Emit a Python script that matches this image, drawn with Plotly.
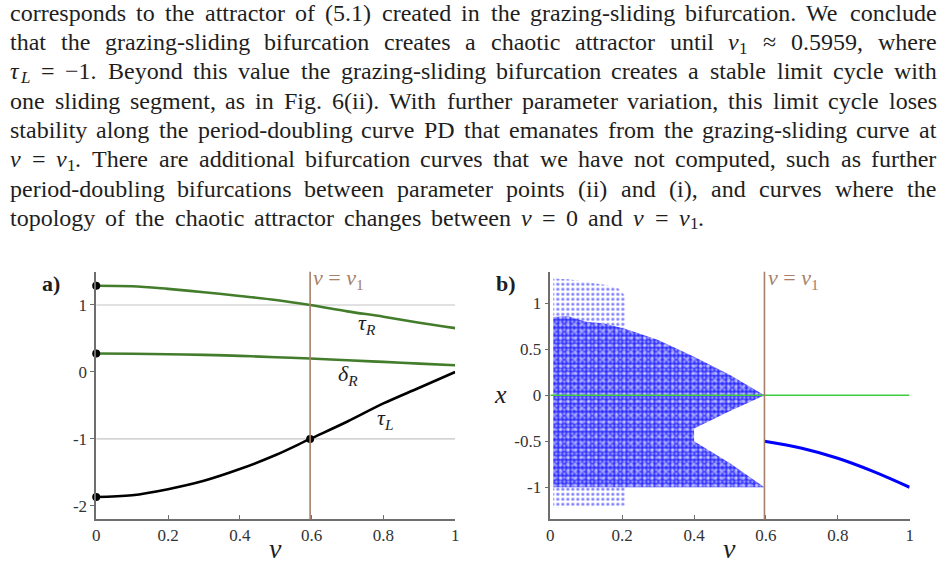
import plotly.graph_objects as go

# ---------------- data: panel a ----------------
nu_a = [0, 0.1, 0.2, 0.3, 0.4, 0.5, 0.5959, 0.7, 0.8, 0.9, 1.0]
tau_R = [1.288, 1.28, 1.24, 1.19, 1.135, 1.075, 1.0, 0.905, 0.825, 0.735, 0.655]
delta_R = [0.275, 0.272, 0.265, 0.255, 0.24, 0.22, 0.2, 0.175, 0.15, 0.125, 0.1]
tau_L = [-1.866, -1.84, -1.75, -1.625, -1.45, -1.24, -1.0, -0.74, -0.47, -0.235, 0.0]
nu1 = 0.5959
dot_nu = [0, 0, 0, 0.5959]
dot_val = [1.288, 0.275, -1.866, -1.0]
grid_vals = [1, -1]
xticks = [0, 0.2, 0.4, 0.6, 0.8, 1]
xtick_text = ["0", "0.2", "0.4", "0.6", "0.8", "1"]
ya_ticks = [-2, -1, 0, 1]
ya_text = ["-2", "-1", "0", "1"]
yb_ticks = [-1, -0.5, 0, 0.5, 1]
yb_text = ["-1", "-0.5", "0", "0.5", "1"]

# ---------------- data: panel b ----------------
branch_nu = [0.5959, 0.7, 0.8, 0.9, 1.0]
branch_x = [-0.5, -0.576, -0.685, -0.83, -1.0]
dense_nu = [0.008, 0.05, 0.1, 0.15, 0.21, 0.3, 0.4, 0.5, 0.5959, 0.5, 0.4, 0.4, 0.5, 0.5959, 0.21, 0.008]
dense_x = [0.85, 0.86, 0.8, 0.78, 0.72, 0.6, 0.42, 0.22, 0.0, -0.17, -0.36, -0.5, -0.74, -1.0, -1.0, -1.0]
sparse_top_nu = [0.008, 0.008, 0.05, 0.1, 0.15, 0.19, 0.21, 0.21, 0.15, 0.1, 0.05]
sparse_top_x = [0.85, 1.27, 1.26, 1.23, 1.2, 1.16, 1.07, 0.72, 0.78, 0.8, 0.86]
sparse_bot_nu = [0.008, 0.21, 0.21, 0.008]
sparse_bot_x = [-1.0, -1.0, -1.2, -1.22]

W_FIG, H_FIG = 952, 564
SERIF = "Liberation Serif"
TXT = "#1e1e1e"
BROWN = "#a5806a"
GREEN_A = "#437d2c"
GREEN_B = "#3fcc3f"
BLUE = "#0000ff"
AX = "#6e6e6e"

fig = go.Figure()

# ---- panel a ----
for g in grid_vals:
    fig.add_trace(go.Scatter(x=[0, 1], y=[g, g], mode="lines",
                             line=dict(color="#c4c4c4", width=1.2), xaxis="x", yaxis="y", hoverinfo="skip"))
fig.add_trace(go.Scatter(x=nu_a, y=tau_R, mode="lines", line=dict(color=GREEN_A, width=2.6, shape="spline"),
                         xaxis="x", yaxis="y"))
fig.add_trace(go.Scatter(x=nu_a, y=delta_R, mode="lines", line=dict(color=GREEN_A, width=2.6, shape="spline"),
                         xaxis="x", yaxis="y"))
fig.add_trace(go.Scatter(x=nu_a, y=tau_L, mode="lines", line=dict(color="black", width=2.6, shape="spline"),
                         xaxis="x", yaxis="y"))
fig.add_trace(go.Scatter(x=dot_nu, y=dot_val, mode="markers", marker=dict(color="black", size=8),
                         xaxis="x", yaxis="y", cliponaxis=False))

# ---- panel b ----
def cloud(nu, x, fg, bg, size, solidity):
    fig.add_trace(go.Scatter(x=nu, y=x, mode="lines", fill="toself", line=dict(width=0),
                             fillcolor="rgba(0,0,0,0)",
                             fillpattern=dict(shape=".", fgcolor=fg, bgcolor=bg, size=size, solidity=solidity),
                             xaxis="x2", yaxis="y2", hoverinfo="skip"))

cloud(sparse_top_nu, sparse_top_x, BLUE, "rgba(0,0,0,0)", 5, 0.3)
cloud(sparse_bot_nu, sparse_bot_x, BLUE, "rgba(0,0,0,0)", 5, 0.3)
cloud(dense_nu, dense_x, "white", "#2a2aff", 4, 0.42)
cloud(dense_nu, dense_x, "white", "rgba(0,0,0,0)", 7, 0.22)
fig.add_trace(go.Scatter(x=[0, 1], y=[0, 0], mode="lines", line=dict(color=GREEN_B, width=1.6),
                         xaxis="x2", yaxis="y2"))
fig.add_trace(go.Scatter(x=branch_nu, y=branch_x, mode="lines", line=dict(color=BLUE, width=3, shape="spline"),
                         xaxis="x2", yaxis="y2"))

# vertical nu = nu1 lines
for xr, yr in (("x", "y"), ("x2", "y2")):
    fig.add_shape(type="line", xref=xr, yref=yr + " domain", x0=nu1, x1=nu1, y0=0, y1=1,
                  line=dict(color=BROWN, width=1.6))

ydom = [1 - 519.3 / H_FIG, 1 - 271.7 / H_FIG]
common = dict(showline=True, linecolor=AX, linewidth=1.5, showgrid=False, zeroline=False,
              tickcolor=AX, tickfont=dict(family=SERIF, size=17, color="#333"), mirror=False)
fig.update_layout(
    width=W_FIG, height=H_FIG, margin=dict(l=0, r=0, t=0, b=0),
    paper_bgcolor="white", plot_bgcolor="white", showlegend=False,
    xaxis=dict(domain=[93 / W_FIG, 455 / W_FIG], range=[0, 1], anchor="y", ticks="inside", ticklen=5,
               tickvals=xticks, ticktext=xtick_text, **common),
    yaxis=dict(domain=ydom, range=[-2.2, 1.497], anchor="x", ticks="outside", ticklen=4,
               tickvals=ya_ticks, ticktext=ya_text, **common),
    xaxis2=dict(domain=[551 / W_FIG, 913.3 / W_FIG], range=[0, 1], anchor="y2", ticks="inside", ticklen=5,
                tickvals=xticks, ticktext=xtick_text, **common),
    yaxis2=dict(domain=ydom, range=[-1.348, 1.343], anchor="x2", ticks="outside", ticklen=4,
                tickvals=yb_ticks, ticktext=yb_text, **common),
)

ann = []
def add_px(text, px, py, size, color=TXT, xanchor="center", yanchor="middle"):
    ann.append(dict(text=text, x=px / W_FIG, y=1 - py / H_FIG, xref="paper", yref="paper",
                    showarrow=False, xanchor=xanchor, yanchor=yanchor, borderpad=0,
                    font=dict(family=SERIF, size=size, color=color)))

# plot labels
add_px("<b>a)</b>", 47, 283, 22)
add_px("<b>b)</b>", 506, 283, 22)
add_px("<i>ν</i>", 274, 548, 28)
add_px("<i>ν</i>", 732, 548, 28)
add_px("<i>x</i>", 501, 394, 26)
add_px("<i>ν</i> = <i>ν</i><sub>1</sub>", 311, 279, 22, BROWN, xanchor="left")
add_px("<i>ν</i> = <i>ν</i><sub>1</sub>", 769, 279, 22, BROWN, xanchor="left")
add_px("<i>τ</i><sub><i>R</i></sub>", 366, 324, 22)
add_px("<i>δ</i><sub><i>R</i></sub>", 347, 375, 22)
add_px("<i>τ</i><sub><i>L</i></sub>", 384, 419, 22)

# ---------------- paragraph (justified) ----------------
WID = {' ': 250, 'a': 444, 'b': 500, 'c': 444, 'd': 500, 'e': 444, 'f': 333, 'g': 500, 'h': 500, 'i': 278,
       'j': 278, 'k': 500, 'l': 278, 'm': 778, 'n': 500, 'o': 500, 'p': 500, 'q': 500, 'r': 333, 's': 389,
       't': 278, 'u': 500, 'v': 500, 'w': 722, 'x': 500, 'y': 500, 'z': 444, 'A': 722, 'B': 667, 'C': 667,
       'D': 722, 'E': 611, 'F': 556, 'P': 556, 'T': 611, 'W': 944, '.': 250, ',': 250, '(': 333, ')': 333,
       '-': 333, '=': 564, '≈': 549, '−': 564}
IWID = {'ν': 460, 'τ': 440, 'L': 556}
NU = [("ν", "i")]
NU1 = [("ν", "i"), ("1", "sub")]
NU1P = [("ν", "i"), ("1", "sub"), (".", "r")]
TAUL = [("τ", "i"), ("L", "isub")]

lines = [
    "corresponds to the attractor of (5.1) created in the grazing-sliding bifurcation. We conclude".split(),
    "that the grazing-sliding bifurcation creates a chaotic attractor until".split() + [NU1, "≈", "0.5959,", "where"],
    [TAUL, "=", "−1."] + "Beyond this value the grazing-sliding bifurcation creates a stable limit cycle with".split(),
    "one sliding segment, as in Fig. 6(ii). With further parameter variation, this limit cycle loses".split(),
    "stability along the period-doubling curve PD that emanates from the grazing-sliding curve at".split(),
    [NU, "=", NU1P] + "There are additional bifurcation curves that we have not computed, such as further".split(),
    "period-doubling bifurcations between parameter points (ii) and (i), and curves where the".split(),
    "topology of the chaotic attractor changes between".split() + [NU, "=", "0", "and", NU, "=", NU1P],
]

FS = 24
SUBFS = 17
LEFT, RIGHT = 5, 939
BASE0, PITCH = 20, 29.3

def pieces(word):
    return [(word, "r")] if isinstance(word, str) else word

def pw(t, st):
    if st == "r":
        return sum(WID.get(c, 500) for c in t) / 1000 * FS
    if st == "i":
        return sum(IWID.get(c, 500) for c in t) / 1000 * FS
    if st == "sub":
        return sum(WID.get(c, 500) for c in t) / 1000 * SUBFS
    return sum(IWID.get(c, 500) for c in t) / 1000 * SUBFS

for li, words in enumerate(lines):
    widths = [sum(pw(t, s) for t, s in pieces(w)) for w in words]
    if li < len(lines) - 1:
        gap = (RIGHT - LEFT - sum(widths)) / (len(words) - 1)
    else:
        gap = 0.44 * FS
    cy = BASE0 + PITCH * li - 0.3 * FS
    x = LEFT
    for w, ww in zip(words, widths):
        px = x
        for t, s in pieces(w):
            if s == "r":
                add_px(t, px, cy, FS, xanchor="left")
            elif s == "i":
                add_px("<i>" + t + "</i>", px, cy, FS, xanchor="left")
            elif s == "sub":
                add_px(t, px, cy + 6, SUBFS, xanchor="left")
            else:
                add_px("<i>" + t + "</i>", px, cy + 6, SUBFS, xanchor="left")
            px += pw(t, s)
        x += ww + gap

fig.update_layout(annotations=ann)
fig.write_html("out.html")
